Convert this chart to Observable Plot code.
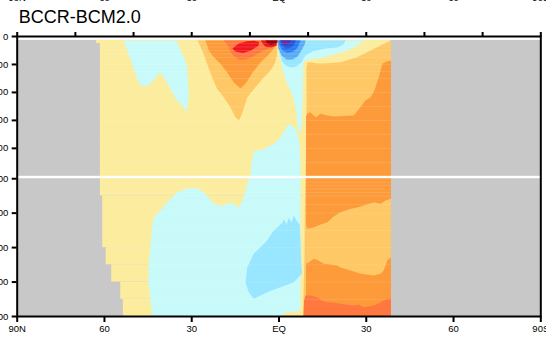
<!DOCTYPE html>
<html>
<head>
<meta charset="utf-8">
<script src="https://cdn.jsdelivr.net/npm/d3@7"></script>
<script src="https://cdn.jsdelivr.net/npm/@observablehq/plot@0.6"></script>
<style>
  html, body { margin: 0; padding: 0; background: white; }
  #chart { width: 546px; height: 338px; }
</style>
</head>
<body>
<div id="chart"></div>
<script>
// ---------- data (latitude °N positive, depth m) ----------
const title = "BCCR-BCM2.0";
const latTicks = [90, 60, 30, 0, -30, -60, -90];
const latTickLabels = ["90N", "60", "30", "EQ", "30", "60", "90S"];
const latMinorTicks = [90, 70, 50, 30, 10, -10, -30, -50, -70, -90];
const depthTicks = [0, 200, 400, 600, 800, 1001, 2000, 3000, 4000, 5000];
const depthTickLabels = ["0", "200", "400", "600", "800", "1000", "2000", "3000", "4000", "5000"];
const modelLevels = [50, 75, 100, 125, 150, 200, 250, 300, 400, 500, 600, 700, 800, 900,
  1100, 1200, 1300, 1400, 1500, 1750, 2000, 2500, 3000, 3500, 4000, 4500];

// ocean (basin) extent by depth band
const oceanTop = [28, 50, 1500, 3000, 3500, 4000, 4500];
const oceanBottom = [50, 1500, 3000, 3500, 4000, 4500, 5000];
const oceanNorthEdge = [62.7, 61.4, 60.6, 59.4, 57.5, 54.4, 53.5];
const oceanSouthEdge = -38.5;

// contour regions: [lat, depth]
const lightCyanNW = [[53.4,28],[52.2,100],[50.5,193],[49.0,291],[47.6,350],[45.9,358],[44.2,338],[42.5,300],[41.0,255],[39.7,286],[38.4,336],[36.6,400],[35.6,443],[33.9,479],[32.5,515],[31.8,549],[31.0,434],[31.3,315],[31.6,220],[32.5,157],[33.3,122],[34.4,72],[35.2,28]];
const lightCyanMain = [[-3.4,624],[-5.7,658],[-6.8,730],[-7.2,815],[-7.4,994],[-7.4,1000],[-7.4,2000],[-7.4,4800],[-6.0,4855],[-4.0,4870],[-2.0,4884],[-1.2,5000],
  [43.6,5000],[44.9,3955],[44.8,3470],[44.2,2940],[43.6,2408],[43.0,2118],[40.7,1923],[38.4,1682],[35.0,1392],[31.6,1293],[28.7,1264],[25.9,1392],[22.4,1729],[19.5,1798],[17.3,1700],[15.5,1729],[13.8,1845],[12.1,1537],[10.9,1148],[9.8,1000],
  [9.8,994],[9.6,923],[9.2,875],[8.8,837],[8.1,815],[6.4,815],[4.1,792],[1.8,768],[0.6,744],[-0.5,720],[-1.9,672]];
const lightCyanEq = [[0.9,28],[0.2,100],[-0.5,172],[-1.6,267],[-2.8,338],[-4.5,410],[-5.7,506],[-6.3,601],[-6.5,672],[-7.7,672],[-8.1,458],[-8.3,279],[-8.4,186],[-9.1,172],[-13.2,157],[-17.7,136],[-23.5,100],[-27.0,64],[-29.1,28]];
const cyanTop = [[0.5,28],[0,100],[-0.9,172],[-2.2,207],[-4.0,222],[-6.0,215],[-7.7,186],[-9.1,136],[-11.5,107],[-16.0,86],[-20.1,79],[-22.2,57],[-22.9,28]];
const cyanDeep = [[-5.1,2068],[-6.0,2213],[-7.1,2330],[-7.4,2794],[-7.6,3375],[-7.9,3752],[-5.1,4005],[-0.5,4150],[4.1,4295],[8.7,4486],[10.4,4295],[11.5,4005],[10.9,3569],[8.7,3180],[6.4,2989],[4.1,2794],[1.8,2504],[0.2,2388],[-1.2,2271],[-1.7,2184],[-2.6,2329],[-3.4,2126],[-4.3,2271]];
const mediumBlueTop = [[0.7,28],[0.2,86],[-0.9,136],[-2.6,165],[-4.6,165],[-6.4,143],[-7.7,100],[-8.8,57],[-9.1,28]];
const blueTop = [[0.2,28],[-0.2,64],[-1.2,100],[-2.9,117],[-5.0,107],[-6.4,79],[-7.4,28]];
const darkBlueTop = [[-0.3,28],[-0.8,57],[-2.3,86],[-4.2,79],[-5.4,50],[-5.7,28]];
const purpleTop = [[-0.7,28],[-1.0,50],[-2.2,61],[-3.6,50],[-4.1,28]];
const lightOrangeN = [[28.0,28],[26.4,100],[24.7,195],[23.0,291],[21.3,374],[19.0,434],[16.7,506],[15.0,577],[13.8,601],[12.7,553],[10.9,434],[8.1,363],[5.2,291],[2.9,243],[1.5,195],[0.7,136],[0.5,28]];
const orangeN = [[25.3,28],[24.1,100],[22.4,148],[20.1,195],[17.8,258],[15.5,329],[13.2,372],[11.2,329],[9.1,258],[6.4,186],[3.5,129],[1.8,88],[1.0,57],[0.9,28]];
const orangeRedN = [[19.0,28],[17.8,57],[16.1,129],[13.8,165],[11.5,165],[8.7,141],[5.8,105],[2.9,81],[1.2,57],[0.9,28]];
const redN1 = [[16.0,86],[13.8,50],[11.0,34],[8.5,30],[6.8,40],[7.0,64],[9.6,100],[12.4,118],[15.0,108]];
const redN2 = [[6.2,28],[5.6,52],[4.6,74],[2.6,79],[0.9,66],[0.4,28]];
const darkRedN = [[4.6,28],[4.1,50],[2.6,61],[1.0,50],[0.5,28]];
const lightOrangeS = [[-9.4,229],[-9.8,186],[-10.8,184],[-12.9,193],[-15.3,193],[-18.4,190],[-21.1,184],[-23.9,168],[-26.9,148],[-29.1,125],[-31.5,100],[-34.9,64],[-36.9,43],[-38.5,28],[-38.5,5000],[-8.4,5000],[-8.4,4536],[-8.8,3090],[-8.9,1633],[-9.1,1000],[-9.3,815],[-9.5,458]];
const orangeS = [[-9.3,572],[-9.7,553],[-10.8,542],[-12.6,577],[-14.3,553],[-16.6,565],[-18.8,572],[-21.1,570],[-23.5,566],[-25.7,565],[-28.0,506],[-29.7,458],[-31.5,434],[-32.8,386],[-34.3,291],[-35.5,195],[-37.0,179],[-38.5,172],[-38.5,5000],[-9.3,5000]];
const lightOrangeDeepS = [[-9.3,2301],[-9.7,2454],[-12.0,2408],[-14.3,2330],[-16.6,2263],[-18.8,2097],[-21.1,1973],[-24.6,1874],[-26.9,1836],[-29.2,1778],[-32.6,1682],[-34.9,1729],[-36.6,1633],[-38.5,1583],[-38.5,3279],[-37.2,3375],[-36.0,3665],[-34.9,3761],[-32.6,3810],[-28.0,3761],[-24.6,3665],[-21.1,3578],[-20.0,3520],[-17.7,3491],[-15.4,3470],[-13.5,3375],[-12.0,3325],[-10.2,3433],[-9.3,3470]];
const orangeRedS = [[-8.4,5000],[-8.6,4536],[-9.1,4391],[-10.8,4391],[-13.1,4440],[-14.6,4536],[-16.6,4585],[-18.8,4594],[-21.1,4632],[-23.1,4652],[-25.7,4681],[-27.3,4652],[-29.2,4730],[-30.8,4710],[-32.6,4681],[-34.2,4623],[-36.0,4536],[-37.3,4492],[-38.5,4486],[-38.5,5000]];

// ---------- colours ----------
const C = {
  land: "#c8c8c8", paleYellow: "#fcec9e", lightOrange: "#fdc865", orange: "#fd9a3a",
  orangeRed: "#ff7840", red: "#ef1620", darkRed: "#960010", purple: "#6c2a9e",
  darkBlue: "#2353d8", blue: "#2b78f0", mediumBlue: "#5aaaf5", cyan: "#98e6ff", lightCyan: "#c8fafa"
};

const layers = [
  [lightCyanNW, C.lightCyan], [lightCyanMain, C.lightCyan], [lightCyanEq, C.lightCyan],
  [cyanTop, C.cyan], [cyanDeep, C.cyan],
  [mediumBlueTop, C.mediumBlue], [blueTop, C.blue], [darkBlueTop, C.darkBlue], [purpleTop, C.purple],
  [lightOrangeN, C.lightOrange], [lightOrangeS, C.lightOrange],
  [orangeN, C.orange], [orangeS, C.orange], [lightOrangeDeepS, C.lightOrange],
  [orangeRedN, C.orangeRed], [orangeRedS, C.orangeRed],
  [redN1, C.red], [redN2, C.red], [darkRedN, C.darkRed]
];

// depth axis: 0–1000 m (upper panel) and 1000–5000 m (compressed lower panel) with a small gap
const upperDepth = 1000, gapDepth = 17.2, lowerRatio = 0.2464;
const depthTransform = d => d <= upperDepth ? d
  : d < upperDepth + 1 ? upperDepth + (d - upperDepth) * gapDepth
  : upperDepth + gapDepth + (d - upperDepth - 1) * lowerRatio;

const poly = (pts, color) => Plot.line(pts.map(([lat, depth]) => ({lat, depth})), {
  x: "lat", y: "depth", fill: color, stroke: "none", curve: "linear-closed"
});

const northEdgeAt = d => {
  for (let i = 0; i < oceanTop.length; i++) if (d >= oceanTop[i] && d < oceanBottom[i]) return oceanNorthEdge[i];
  return oceanNorthEdge[oceanNorthEdge.length - 1];
};
const latLabel = d => latTickLabels[latTicks.indexOf(d)];
const depthLabel = d => depthTickLabels[depthTicks.indexOf(d)];

const chart = Plot.plot({
  width: 546, height: 338,
  marginTop: 36, marginBottom: 22, marginLeft: 16.7, marginRight: 5.7,
  style: {fontFamily: "'Liberation Sans', Arial, sans-serif", fontSize: "9.5px", color: "black", background: "white", overflow: "hidden"},
  x: {domain: [90, -90], range: [16.7, 540.3]},
  y: {transform: depthTransform, domain: [0, depthTransform(5000)], range: [36, 316]},
  marks: [
    Plot.rect([0], {x1: 90, x2: -90, y1: 28, y2: 5000, fill: C.land}),
    Plot.rect(oceanTop.map((t, i) => i), {x1: i => oceanNorthEdge[i], x2: () => oceanSouthEdge, y1: i => oceanTop[i], y2: i => oceanBottom[i], fill: C.paleYellow}),
    ...layers.map(([pts, color]) => poly(pts, color)),
    Plot.ruleY(modelLevels, {y: d => d, x1: d => northEdgeAt(d), x2: () => oceanSouthEdge, stroke: "white", strokeOpacity: 0.22, strokeWidth: 0.6}),
    Plot.rect([0], {x1: 90, x2: -90, y1: 1000, y2: 1001, fill: "white"}),
    Plot.frame({stroke: "black", strokeWidth: 2}),
    Plot.axisX(latTicks, {anchor: "bottom", tickSize: 6, tickPadding: 3, tickFormat: latLabel, strokeWidth: 2, fontSize: 9.5, label: null}),
    Plot.axisX(latMinorTicks, {anchor: "top", tickSize: 5, tickFormat: () => "", strokeWidth: 2, label: null}),
    Plot.axisY(depthTicks, {anchor: "left", tickSize: 5, tickPadding: 4, tickFormat: depthLabel, strokeWidth: 2, fontSize: 9.5, label: null}),
    Plot.text(latTicks, {x: d => d, text: latLabel, frameAnchor: "top", dy: -36, lineAnchor: "bottom", fontSize: 9.5}),
    Plot.text([title], {frameAnchor: "top-left", dx: 1.5, dy: -19, lineAnchor: "middle", textAnchor: "start", fontSize: 18})
  ]
});
document.getElementById("chart").appendChild(chart);
</script>
</body>
</html>
